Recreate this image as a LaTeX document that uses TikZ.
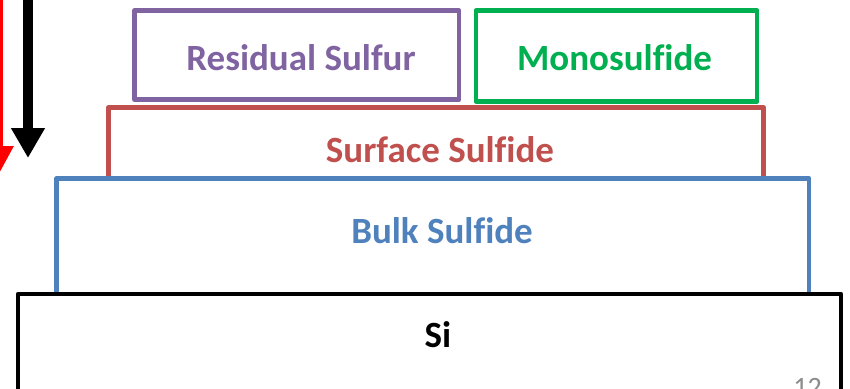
\documentclass[tikz,border=0pt]{standalone}
\usepackage{fontspec}
\setmainfont{Carlito}[Ligatures=NoCommon]
\usetikzlibrary{arrows.meta}
\definecolor{cpurple}{HTML}{8064A2}
\definecolor{cgreen}{HTML}{00B050}
\definecolor{cred}{HTML}{C0504D}
\definecolor{cblue}{HTML}{4F81BD}
\definecolor{cgray}{HTML}{8C8C8C}
\tikzset{
  layer/.style={draw=#1, fill=white, line width=4.6pt, rectangle, inner sep=0pt, outer sep=0pt, line join=round},
  lbl/.style={text=#1, font=\fontsize{37}{40}\selectfont\bfseries, anchor=base, inner sep=0pt},
}
\begin{document}
\begin{tikzpicture}[x=1pt,y=-1pt]
\useasboundingbox (0,0) rectangle (850,388);
% layers back to front
\node[layer=cred, minimum width=655pt, minimum height=92.5pt] (surf) at (436,153.75) {};
\node[layer=cblue, minimum width=752.5pt, minimum height=141.7pt] (bulk) at (432.75,249.15) {};
\node[layer=black, minimum width=823pt, minimum height=126pt] (si) at (429.5,357) {};
\node[layer=cpurple, minimum width=324.5pt, minimum height=89.2pt] (res) at (296.75,55.1) {};
\node[layer=cgreen, minimum width=281pt, minimum height=91pt] (mono) at (616.5,56) {};
% labels
\node[lbl=cpurple] (tres) at (301,70.5) {Residual Sulfur};
\node[lbl=cgreen] (tmono) at (614.5,70.5) {Monosulfide};
\node[lbl=cred] (tsurf) at (440,162) {Surface Sulfide};
\node[lbl=cblue] (tbulk) at (442,243) {Bulk Sulfide};
\node[lbl=black] (tsi) at (438,347) {Si};
% page number (cut off at the bottom edge, as in the reference)
\node[text=cgray, font=\fontsize{28}{30}\selectfont, anchor=base, inner sep=0pt] (pnum) at (807.5,396) {12};
% arrows
\coordinate (rtop) at (0,-5);
\coordinate (rtip) at (0,172);
\coordinate (btop) at (28,-5);
\coordinate (btip) at (28,158);
\draw[red, line width=6pt, -{Triangle[width=26pt,length=26pt]}] (rtop) -- (rtip);
\draw[black, line width=10pt, -{Triangle[width=32pt,length=30pt]}] (btop) -- (btip);
\end{tikzpicture}
\end{document}
